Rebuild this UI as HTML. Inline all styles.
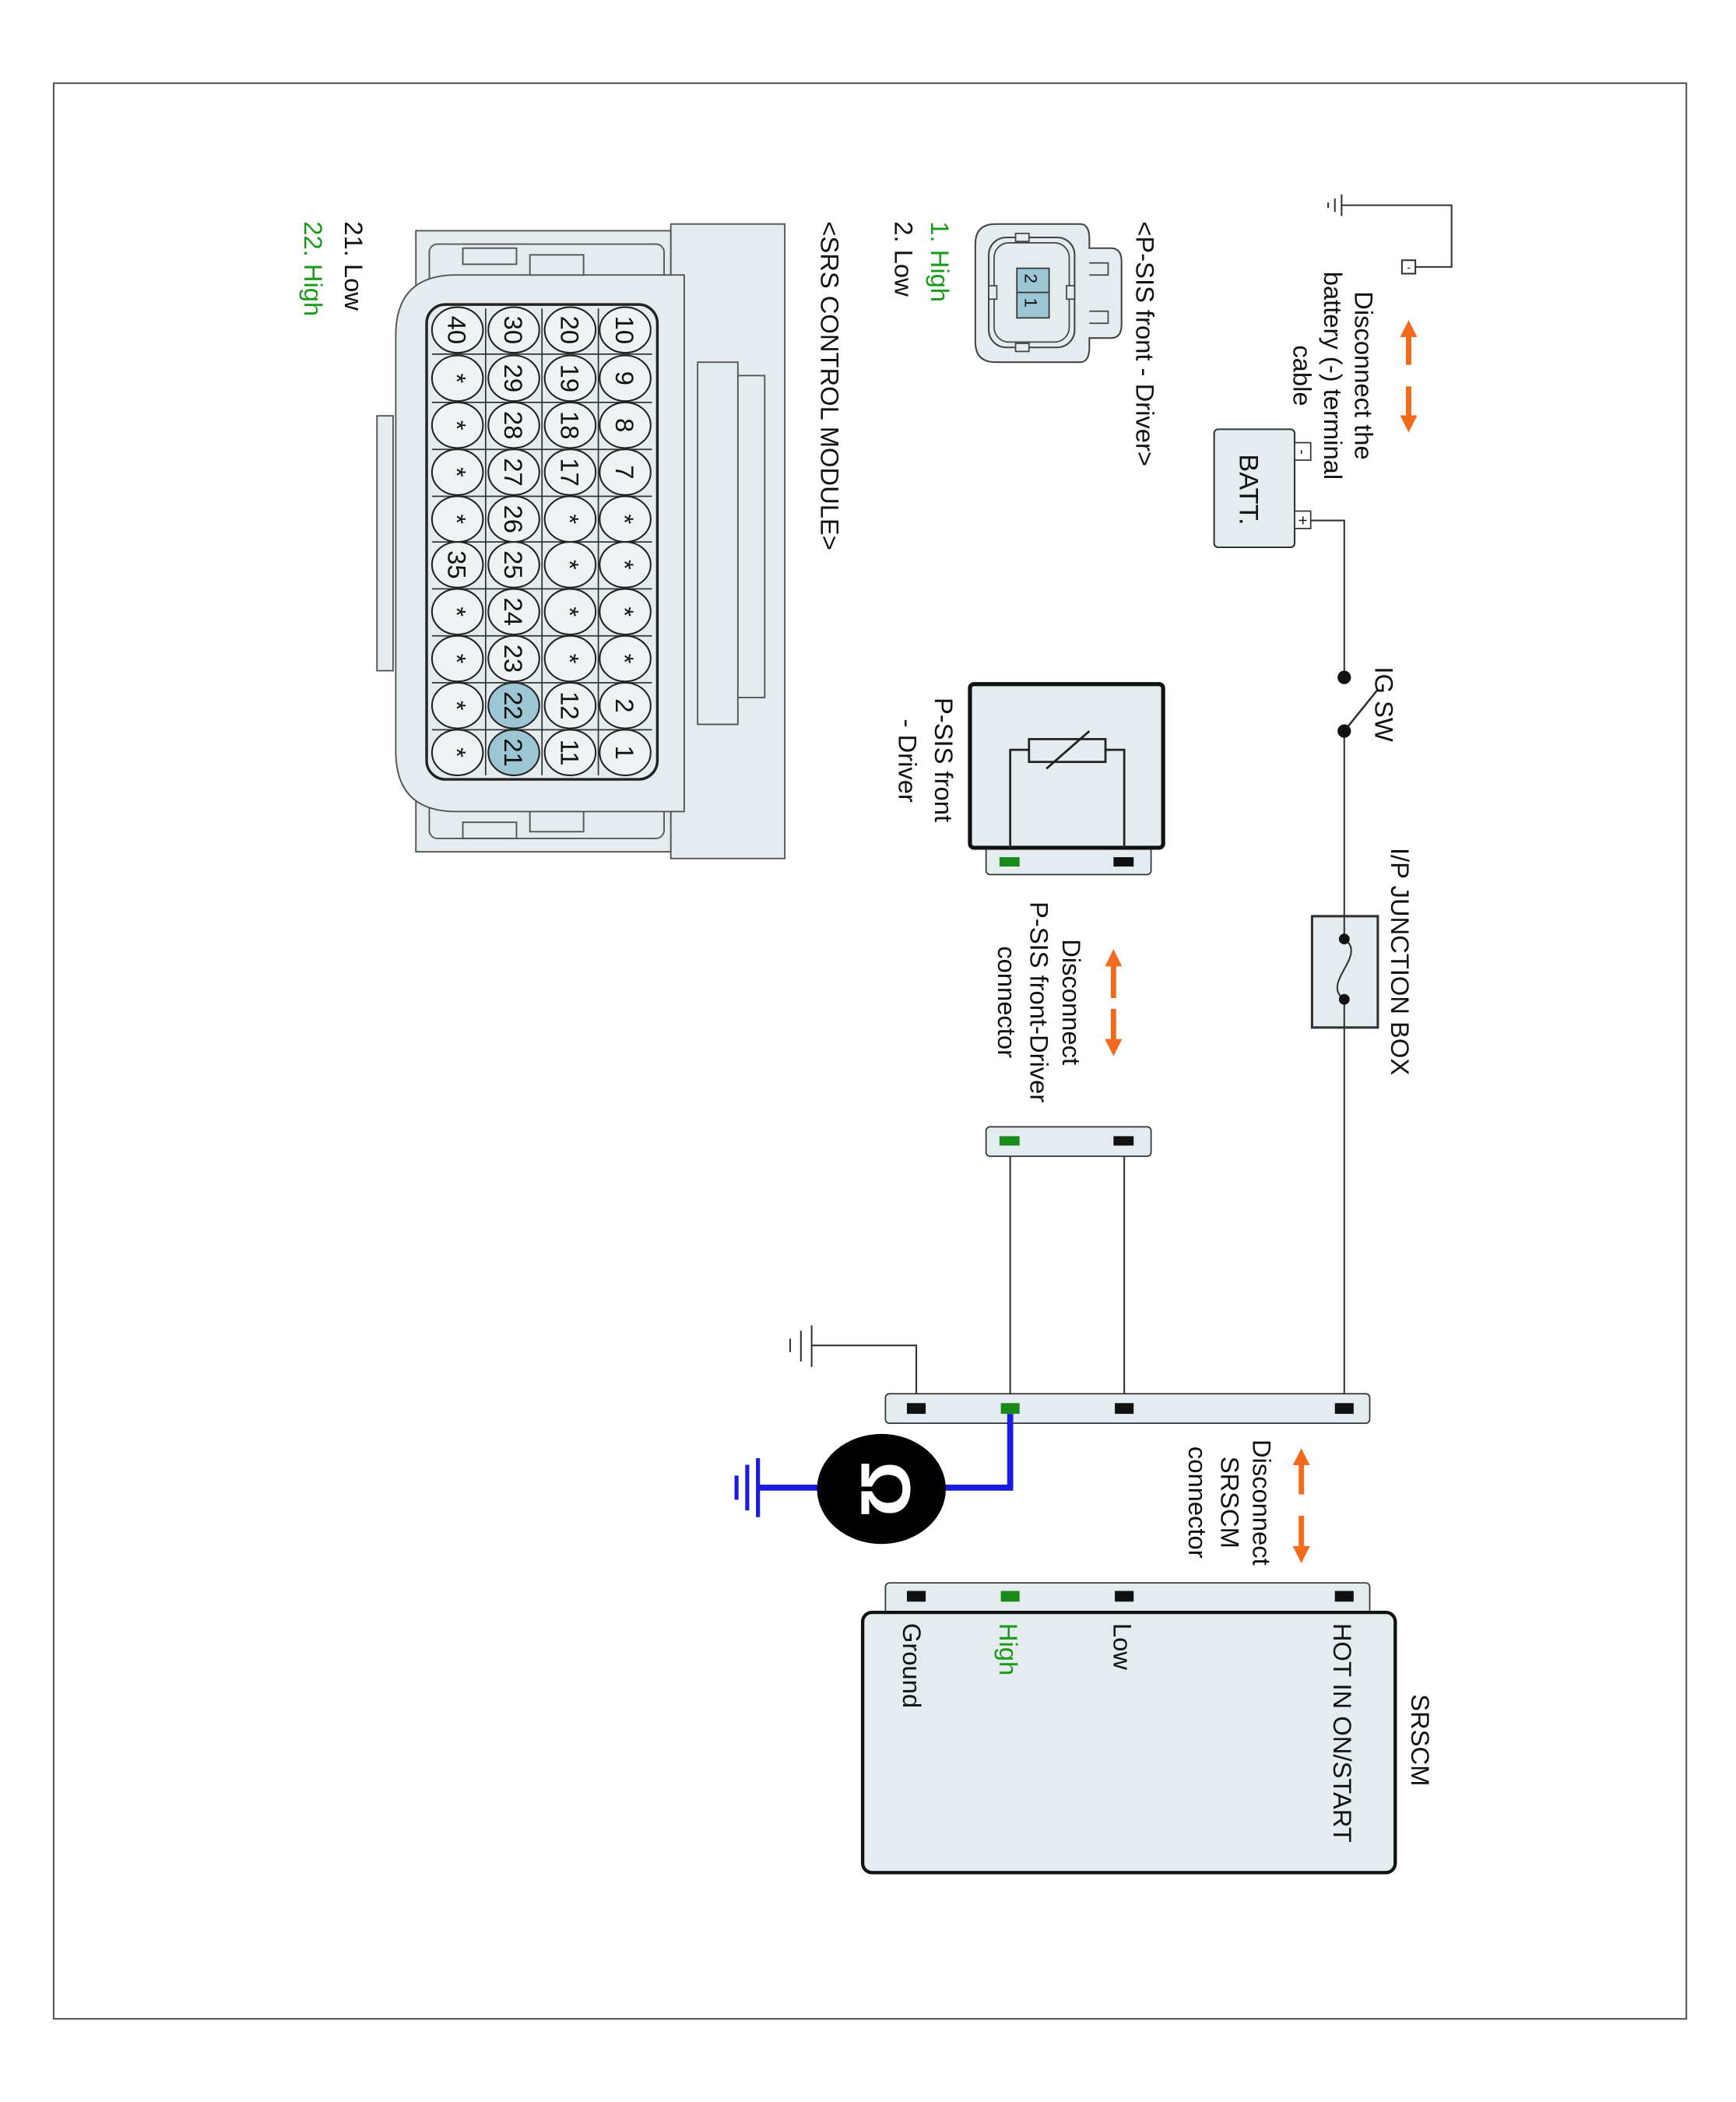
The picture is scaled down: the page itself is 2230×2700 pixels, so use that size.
<!DOCTYPE html>
<html><head><meta charset="utf-8"><style>html,body{margin:0;padding:0;background:#fff}svg{display:block;font-size:19px}
text{font-family:"Liberation Sans",Arial,sans-serif;fill:#111}</style></head><body>
<svg width="2230" height="2700" viewBox="0 0 1294 1567" preserveAspectRatio="none" xmlns="http://www.w3.org/2000/svg">
<defs>
<marker id="ah" viewBox="0 0 10 10" refX="5" refY="5" markerWidth="3.2" markerHeight="3.2" orient="auto"><path d="M0,0 L10,5 L0,10 z" fill="#f26b1d"/></marker>
</defs>
<rect x="40" y="62" width="1217" height="1443" fill="none" stroke="#555" stroke-width="1.2"/>

<!-- top ground -->
<g stroke="#333" stroke-width="1.2" fill="none">
<path d="M1050,199 H1082 V153 H1000"/>
<line x1="1000" y1="145" x2="1000" y2="161"/><line x1="995" y1="148" x2="995" y2="158"/><line x1="990" y1="151" x2="990" y2="155"/>
<rect x="1045" y="194" width="10" height="10" fill="#fff"/>
</g>
<text x="1050" y="202" font-size="8" text-anchor="middle">-</text>
<!-- battery arrows -->
<line x1="1050" y1="272" x2="1050" y2="245" stroke="#f26b1d" stroke-width="4" marker-end="url(#ah)"/>
<line x1="1050" y1="288" x2="1050" y2="316" stroke="#f26b1d" stroke-width="4" marker-end="url(#ah)"/>
<text transform="rotate(90 1010 280)" x="1010" y="280" text-anchor="middle"><tspan x="1010">Disconnect the</tspan><tspan x="1010" dy="23">battery (-) terminal</tspan><tspan x="1010" dy="23">cable</tspan></text>
<!-- battery -->
<rect x="905" y="320" width="60" height="88" rx="3" fill="#e4ecef" stroke="#333" stroke-width="1.2"/>
<text transform="rotate(90 924 365)" x="924" y="365" text-anchor="middle" font-size="20">BATT.</text>
<rect x="965" y="330" width="12" height="13" fill="#fff" stroke="#333"/><text transform="rotate(90 967 337)" x="967" y="337" text-anchor="middle" font-size="11">-</text>
<rect x="965" y="381" width="12" height="13" fill="#fff" stroke="#333"/><text transform="rotate(90 967 388)" x="967" y="388" text-anchor="middle" font-size="12">+</text>
<!-- main wire -->
<g stroke="#333" stroke-width="1.2" fill="none">
<path d="M977,388 H1002 V505"/>
<path d="M1002,545 V1050"/>
<line x1="1002" y1="545" x2="1027" y2="514" stroke-width="1.5"/>
<rect x="978" y="683" width="49" height="83" fill="#e4ecef" stroke-width="1.8"/>
<path d="M1002,700 C1020,712 984,733 1002,745"/>
<line x1="1002" y1="683" x2="1002" y2="700"/><line x1="1002" y1="745" x2="1002" y2="766"/>
</g>
<circle cx="1002" cy="505" r="5" fill="#111"/><circle cx="1002" cy="545" r="5" fill="#111"/>
<circle cx="1002" cy="700" r="4" fill="#111"/><circle cx="1002" cy="745" r="4" fill="#111"/>
<text transform="rotate(90 1025 497)" x="1025" y="497">IG SW</text>
<text transform="rotate(90 1037 632)" x="1037" y="632">I/P JUNCTION BOX</text>

<!-- P-SIS device -->
<rect x="735" y="628" width="123" height="24" rx="3" fill="#e4ecef" stroke="#333"/>
<rect x="745" y="639" width="15" height="7" fill="#1a8a1a"/><rect x="830" y="639" width="15" height="7" fill="#111"/>
<rect x="723" y="510" width="144" height="122" rx="3" fill="#e4ecef" stroke="#111" stroke-width="3"/>
<g stroke="#222" stroke-width="1.6" fill="none">
<path d="M753,632 V559 H767"/><path d="M838,632 V559 H824"/>
<rect x="767" y="551" width="57" height="17"/>
<line x1="780" y1="573" x2="812" y2="545"/>
</g>
<text transform="rotate(90 697 520)" x="697" y="520">P-SIS front</text>
<text transform="rotate(90 670 536)" x="670" y="536">- Driver</text>
<!-- P-SIS arrows -->
<line x1="830" y1="744" x2="830" y2="714" stroke="#f26b1d" stroke-width="4" marker-end="url(#ah)"/>
<line x1="830" y1="752" x2="830" y2="781" stroke="#f26b1d" stroke-width="4" marker-end="url(#ah)"/>
<text transform="rotate(90 792 747)" x="792" y="747" text-anchor="middle"><tspan x="792">Disconnect</tspan><tspan x="792" dy="24">P-SIS front-Driver</tspan><tspan x="792" dy="24">connector</tspan></text>
<!-- P-SIS inline connector -->
<g stroke="#333" stroke-width="1.2"><line x1="753" y1="852" x2="753" y2="1048"/><line x1="838" y1="852" x2="838" y2="1048"/></g>
<rect x="735" y="840" width="123" height="22" rx="3" fill="#e4ecef" stroke="#333"/>
<rect x="745" y="847" width="15" height="7" fill="#1a8a1a"/><rect x="830" y="847" width="15" height="7" fill="#111"/>

<!-- SRSCM connector row -->
<g stroke="#333" stroke-width="1.2" fill="none">
<path d="M683,1048 V1003 H605"/>
<line x1="605" y1="988" x2="605" y2="1019"/><line x1="597" y1="992" x2="597" y2="1015"/><line x1="589" y1="998" x2="589" y2="1008"/>
</g>
<rect x="660" y="1039" width="361" height="22" rx="3" fill="#e4ecef" stroke="#333"/>
<rect x="676" y="1046" width="14" height="8" fill="#111"/><rect x="746" y="1046" width="14" height="8" fill="#1a8a1a"/>
<rect x="831" y="1046" width="14" height="8" fill="#111"/><rect x="995" y="1046" width="14" height="8" fill="#111"/>
<!-- blue ohm -->
<g stroke="#1a1ae0" stroke-width="4.5" fill="none"><path d="M753,1054 V1109 H690"/><line x1="620" y1="1109" x2="565" y2="1109"/></g>
<g stroke="#1a1ae0" stroke-width="3"><line x1="565" y1="1087" x2="565" y2="1131"/><line x1="557" y1="1092" x2="557" y2="1126"/><line x1="549" y1="1100" x2="549" y2="1118"/></g>
<ellipse cx="657" cy="1110" rx="48" ry="41" fill="#000"/>
<text transform="rotate(90 642 1110)" x="642" y="1110" text-anchor="middle" font-size="52" font-weight="bold" style="fill:#fff">Ω</text>
<!-- SRSCM arrows -->
<line x1="970" y1="1114" x2="970" y2="1086" stroke="#f26b1d" stroke-width="4" marker-end="url(#ah)"/>
<line x1="970" y1="1130" x2="970" y2="1159" stroke="#f26b1d" stroke-width="4" marker-end="url(#ah)"/>
<text transform="rotate(90 934 1120)" x="934" y="1120" text-anchor="middle"><tspan x="934">Disconnect</tspan><tspan x="934" dy="24">SRSCM</tspan><tspan x="934" dy="24">connector</tspan></text>
<!-- SRSCM box -->
<rect x="660" y="1180" width="361" height="24" rx="3" fill="#e4ecef" stroke="#333"/>
<rect x="676" y="1186" width="14" height="8" fill="#111"/><rect x="746" y="1186" width="14" height="8" fill="#1a8a1a"/>
<rect x="831" y="1186" width="14" height="8" fill="#111"/><rect x="995" y="1186" width="14" height="8" fill="#111"/>
<rect x="643" y="1202" width="397" height="194" rx="7" fill="#e4ecef" stroke="#111" stroke-width="2.5"/>
<text transform="rotate(90 994 1210)" x="994" y="1210">HOT IN ON/START</text>
<text transform="rotate(90 830 1210)" x="830" y="1210">Low</text>
<text transform="rotate(90 745 1210)" x="745" y="1210" style="fill:#1a9a1a">High</text>
<text transform="rotate(90 673 1210)" x="673" y="1210">Ground</text>
<text transform="rotate(90 1052 1263)" x="1052" y="1263">SRSCM</text>

<!-- P-SIS small connector -->
<path d="M742,167 H805 Q812,167 812,178 V185 H828 Q836,185 836,195 V242 Q836,252 828,252 H812 V259 Q812,270 805,270 H742 Q727,270 727,255 V182 Q727,167 742,167 Z" fill="#e4ecef" stroke="#444" stroke-width="1.2"/>
<rect x="737" y="177" width="64" height="82" rx="13" fill="none" stroke="#444" stroke-width="1.2"/>
<rect x="741" y="181" width="56" height="74" rx="11" fill="none" stroke="#444" stroke-width="1"/>
<g stroke="#444" stroke-width="1" fill="#e4ecef"><rect x="757" y="174" width="10" height="6"/><rect x="757" y="256" width="10" height="6"/><rect x="737" y="213" width="6" height="10"/><rect x="795" y="213" width="6" height="10"/>
<path d="M812,196 H826 V205 H812"/><path d="M812,232 H826 V241 H812"/></g>
<rect x="758" y="200" width="24" height="37" fill="#9cc6d4" stroke="#333"/><line x1="758" y1="218" x2="782" y2="218" stroke="#333"/>
<text transform="rotate(90 764 204)" x="764" y="204" font-size="13">2</text>
<text transform="rotate(90 764 222)" x="764" y="222" font-size="13">1</text>
<text transform="rotate(90 847 165)" x="847" y="165">&lt;P-SIS front - Driver&gt;</text>
<text transform="rotate(90 694 165)" x="694" y="165" style="fill:#1a9a1a">1. High</text>
<text transform="rotate(90 667 165)" x="667" y="165">2. Low</text>
<text transform="rotate(90 612 165)" x="612" y="165">&lt;SRS CONTROL MODULE&gt;</text>
<text transform="rotate(90 257 165)" x="257" y="165">21. Low</text>
<text transform="rotate(90 227 165)" x="227" y="165" style="fill:#1a9a1a">22. High</text>

<!-- SRS control module connector -->
<g stroke="#555" stroke-width="1.1" fill="#e4ecef">
<rect x="500" y="167" width="85" height="473"/>
<rect x="520" y="270" width="30" height="270"/>
<path d="M550,280 H570 V520 H550" fill="none"/>
<rect x="310" y="172" width="190" height="463"/>
<rect x="320" y="182" width="175" height="443" rx="6"/>
<rect x="281" y="310" width="12" height="190"/>
<path d="M340,205 H510 V605 H340 Q295,605 295,560 V250 Q295,205 340,205 Z"/>
<rect x="395" y="190" width="40" height="15"/><rect x="395" y="605" width="40" height="15"/>
<rect x="345" y="185" width="40" height="12"/><rect x="345" y="613" width="40" height="12"/>
</g>
<rect x="318" y="227" width="172" height="354" rx="14" fill="#e4ecef" stroke="#222" stroke-width="2"/>
<g stroke="#333" stroke-width="1">
<line x1="404" y1="230" x2="404" y2="578"/><line x1="446" y1="230" x2="446" y2="578"/><line x1="362" y1="230" x2="362" y2="578"/>
<line x1="322" y1="264" x2="486" y2="264"/><line x1="322" y1="300" x2="486" y2="300"/><line x1="322" y1="335" x2="486" y2="335"/><line x1="322" y1="370" x2="486" y2="370"/><line x1="322" y1="404" x2="486" y2="404"/><line x1="322" y1="439" x2="486" y2="439"/><line x1="322" y1="474" x2="486" y2="474"/><line x1="322" y1="509" x2="486" y2="509"/><line x1="322" y1="544" x2="486" y2="544"/>
</g>
<g stroke="#222" stroke-width="1.2" fill="#eef2f3">
<ellipse cx="466" cy="246" rx="19" ry="17"/><ellipse cx="466" cy="282" rx="19" ry="17"/><ellipse cx="466" cy="317" rx="19" ry="17"/><ellipse cx="466" cy="352" rx="19" ry="17"/><ellipse cx="466" cy="387" rx="19" ry="17"/><ellipse cx="466" cy="421" rx="19" ry="17"/><ellipse cx="466" cy="456" rx="19" ry="17"/><ellipse cx="466" cy="491" rx="19" ry="17"/><ellipse cx="466" cy="526" rx="19" ry="17"/><ellipse cx="466" cy="561" rx="19" ry="17"/>
<ellipse cx="425" cy="246" rx="19" ry="17"/><ellipse cx="425" cy="282" rx="19" ry="17"/><ellipse cx="425" cy="317" rx="19" ry="17"/><ellipse cx="425" cy="352" rx="19" ry="17"/><ellipse cx="425" cy="387" rx="19" ry="17"/><ellipse cx="425" cy="421" rx="19" ry="17"/><ellipse cx="425" cy="456" rx="19" ry="17"/><ellipse cx="425" cy="491" rx="19" ry="17"/><ellipse cx="425" cy="526" rx="19" ry="17"/><ellipse cx="425" cy="561" rx="19" ry="17"/>
<ellipse cx="383" cy="246" rx="19" ry="17"/><ellipse cx="383" cy="282" rx="19" ry="17"/><ellipse cx="383" cy="317" rx="19" ry="17"/><ellipse cx="383" cy="352" rx="19" ry="17"/><ellipse cx="383" cy="387" rx="19" ry="17"/><ellipse cx="383" cy="421" rx="19" ry="17"/><ellipse cx="383" cy="456" rx="19" ry="17"/><ellipse cx="383" cy="491" rx="19" ry="17"/><ellipse cx="383" cy="526" rx="19" ry="17" fill="#9cc6d4"/><ellipse cx="383" cy="561" rx="19" ry="17" fill="#9cc6d4"/>
<ellipse cx="341" cy="246" rx="19" ry="17"/><ellipse cx="341" cy="282" rx="19" ry="17"/><ellipse cx="341" cy="317" rx="19" ry="17"/><ellipse cx="341" cy="352" rx="19" ry="17"/><ellipse cx="341" cy="387" rx="19" ry="17"/><ellipse cx="341" cy="421" rx="19" ry="17"/><ellipse cx="341" cy="456" rx="19" ry="17"/><ellipse cx="341" cy="491" rx="19" ry="17"/><ellipse cx="341" cy="526" rx="19" ry="17"/><ellipse cx="341" cy="561" rx="19" ry="17"/>
</g>
<g font-size="19" text-anchor="middle">
<text transform="rotate(90 459 246)" x="459" y="246">10</text><text transform="rotate(90 459 282)" x="459" y="282">9</text><text transform="rotate(90 459 317)" x="459" y="317">8</text><text transform="rotate(90 459 352)" x="459" y="352">7</text><text transform="rotate(90 459 387)" x="459" y="387">*</text><text transform="rotate(90 459 421)" x="459" y="421">*</text><text transform="rotate(90 459 456)" x="459" y="456">*</text><text transform="rotate(90 459 491)" x="459" y="491">*</text><text transform="rotate(90 459 526)" x="459" y="526">2</text><text transform="rotate(90 459 561)" x="459" y="561">1</text>
<text transform="rotate(90 418 246)" x="418" y="246">20</text><text transform="rotate(90 418 282)" x="418" y="282">19</text><text transform="rotate(90 418 317)" x="418" y="317">18</text><text transform="rotate(90 418 352)" x="418" y="352">17</text><text transform="rotate(90 418 387)" x="418" y="387">*</text><text transform="rotate(90 418 421)" x="418" y="421">*</text><text transform="rotate(90 418 456)" x="418" y="456">*</text><text transform="rotate(90 418 491)" x="418" y="491">*</text><text transform="rotate(90 418 526)" x="418" y="526">12</text><text transform="rotate(90 418 561)" x="418" y="561">11</text>
<text transform="rotate(90 376 246)" x="376" y="246">30</text><text transform="rotate(90 376 282)" x="376" y="282">29</text><text transform="rotate(90 376 317)" x="376" y="317">28</text><text transform="rotate(90 376 352)" x="376" y="352">27</text><text transform="rotate(90 376 387)" x="376" y="387">26</text><text transform="rotate(90 376 421)" x="376" y="421">25</text><text transform="rotate(90 376 456)" x="376" y="456">24</text><text transform="rotate(90 376 491)" x="376" y="491">23</text><text transform="rotate(90 376 526)" x="376" y="526">22</text><text transform="rotate(90 376 561)" x="376" y="561">21</text>
<text transform="rotate(90 334 246)" x="334" y="246">40</text><text transform="rotate(90 334 282)" x="334" y="282">*</text><text transform="rotate(90 334 317)" x="334" y="317">*</text><text transform="rotate(90 334 352)" x="334" y="352">*</text><text transform="rotate(90 334 387)" x="334" y="387">*</text><text transform="rotate(90 334 421)" x="334" y="421">35</text><text transform="rotate(90 334 456)" x="334" y="456">*</text><text transform="rotate(90 334 491)" x="334" y="491">*</text><text transform="rotate(90 334 526)" x="334" y="526">*</text><text transform="rotate(90 334 561)" x="334" y="561">*</text>
</g>
</svg>
</body></html>
